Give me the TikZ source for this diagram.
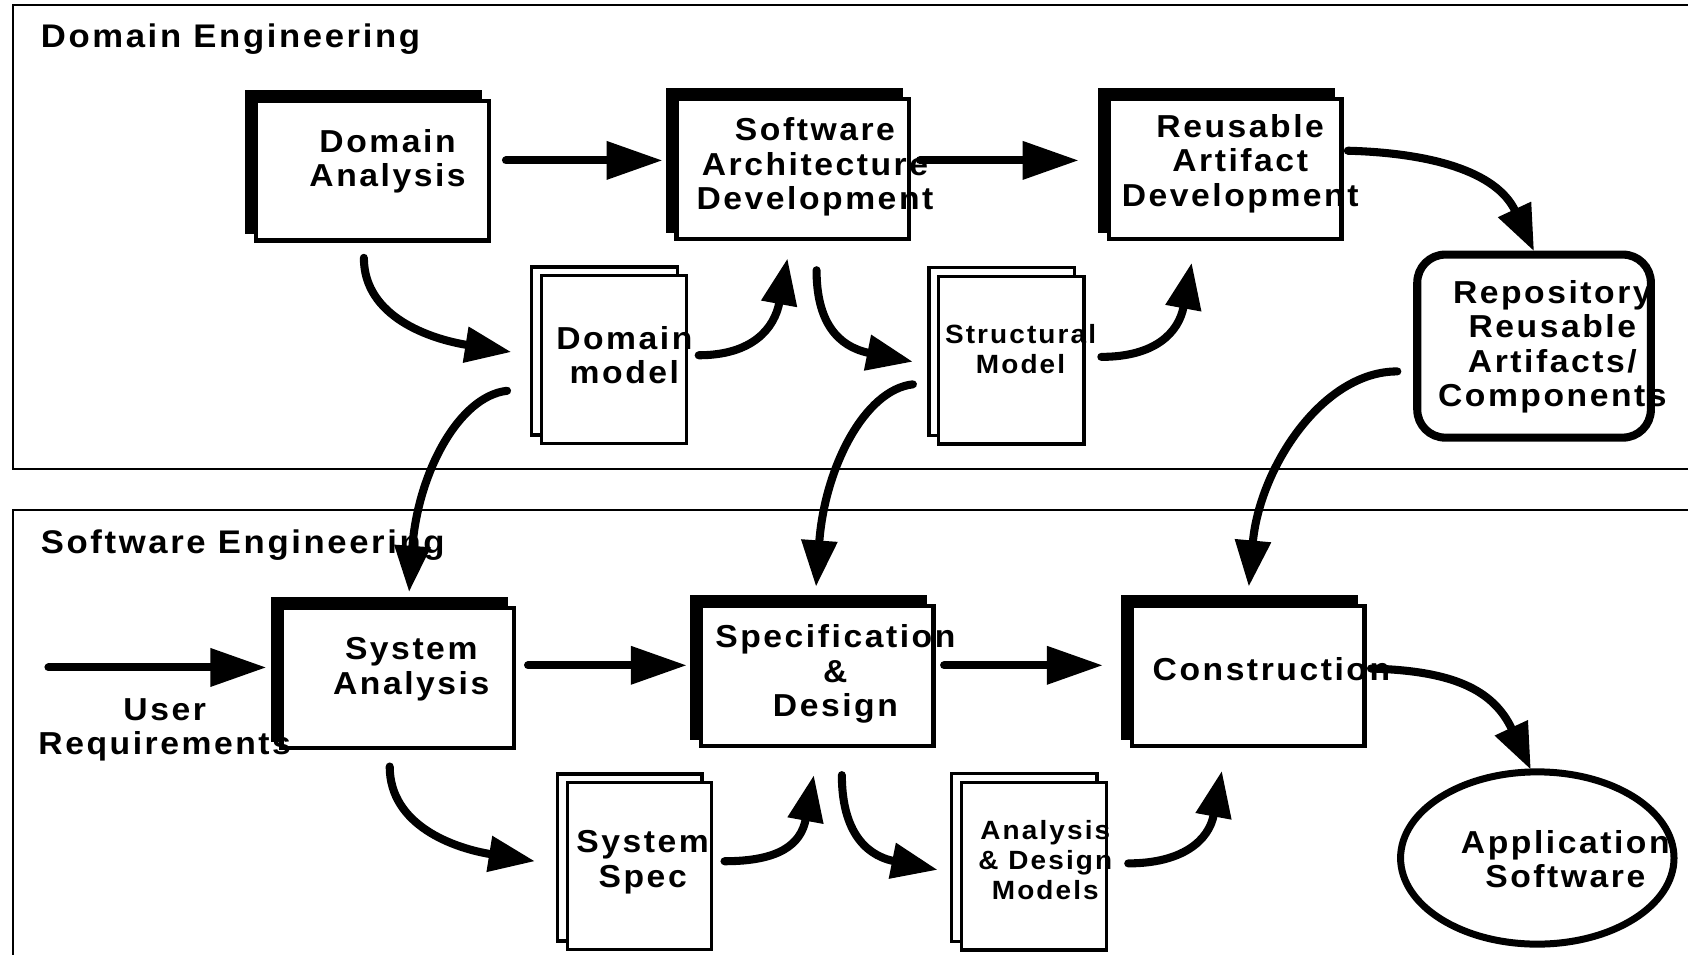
\documentclass[tikz,border=0pt]{standalone}
\usepackage{fontspec}
\newfontfamily\dfont{Liberation Sans}[FakeStretch=1.06,LetterSpace=8]
\usetikzlibrary{arrows.meta,shadows,shapes.geometric,calc}
\begin{document}
\begin{tikzpicture}[x=1pt,y=-1pt]
\tikzset{
  every node/.style={inner sep=0pt, outer sep=0pt, align=center, font=\dfont\bfseries\fontsize{29.5}{32}\selectfont},
  smtxt/.style={font=\dfont\bfseries\fontsize{24.5}{28}\selectfont},
  headtxt/.style={font=\dfont\bfseries\fontsize{30.4}{32}\selectfont},
  proc/.style={draw, line width=4pt, fill=white, minimum width=216pt, minimum height=130pt,
    copy shadow={shadow xshift=-8pt, shadow yshift=8pt, fill=black, draw=black, line width=4pt}},
  doc/.style={draw, line width=3pt, fill=white, minimum width=135pt, minimum height=156pt,
    copy shadow={shadow xshift=-9pt, shadow yshift=8pt, fill=white, draw=black, line width=3pt}},
  frame/.style={draw, line width=2pt},
  arr/.style={line width=7.5pt, line cap=round, -{Triangle[length=52pt,width=34pt]}},
  carr/.style={line width=7.5pt, line cap=round, -{Triangle[length=43pt,width=32pt]}},
}
\path[use as bounding box] (0,0) rectangle (1568,887);
\fill[white] (0,0) rectangle (1568,887);
\clip (0,0) rectangle (1568,887);

% frames
\draw[frame] (1590,5) -- (12,5) -- (12,436) -- (1590,436);
\draw[frame] (1590,474) -- (12,474) -- (12,900);
\node[headtxt, anchor=west] (deL) at (38,36) {Domain Engineering};
\node[headtxt, anchor=west] (seL) at (38,506) {Software Engineering};

% process boxes
\node[proc] (da) at (346,158.5) [label={[shift={(14,-8.5)}]center:Domain\\Analysis}] {};
\node[proc] (sad) at (736.5,157) [label={[shift={(20.5,-2)}]center:Software\\Architecture\\Development}] {};
\node[proc] (rad) at (1138,157) [label={[shift={(14,-5)}]center:Reusable\\Artifact\\Development}] {};
\node[proc] (sa) at (369.5,630) [label={[shift={(12.5,-8.5)}]center:System\\Analysis}] {};
\node[proc] (sd) at (759,628) [label={[shift={(17,-2)}]center:Specification\\\&\\Design}] {};
\node[proc] (con) at (1159.5,628) [label={[shift={(21.5,-6)}]center:Construction}] {};

% documents
\node[doc] (dm) at (570.5,334) [label={[shift={(9.5,-4)}]center:Domain\\model}] {};
\node[doc] (sm) at (939.5,334.5) [label={[smtxt,shift={(8.5,-10.5)}]center:Structural\\Model}] {};
\node[doc, minimum width=134pt, minimum height=155pt] (ss) at (594,804.5) [label={[shift={(3,-3.5)}]center:System\\Spec}] {};
\node[doc] (adm) at (960.5,804.5) [label={[smtxt,shift={(10.5,-5.5)}]center:Analysis\\\& Design\\Models}] {};

% repository and application
\node[draw, line width=7.5pt, rounded corners=26pt, minimum width=217pt, minimum height=170pt, fill=white] (repo) at (1425,321.5)
  [label={[shift={(17,0.5)}]center:Repository\\Reusable\\Artifacts/\\Components}] {};
\node[ellipse, draw, line width=6.5pt, minimum width=254pt, minimum height=160pt, fill=white] (app) at (1428,797)
  [label={[shift={(26,1)}]center:Application\\Software}] {};

\node (ur) at (153,678) {User\\Requirements};
\coordinate (urs) at (45,620);

% straight arrows
\draw[arr] ([shift={(16,-9.5)}]da.east) -- ([shift={(-13,-8)}]sad.west);
\draw[arr] ([shift={(10,-8)}]sad.east) -- ([shift={(-28,-8)}]rad.west);
\draw[arr] (urs) -- ([shift={(-14,-10)}]sa.west);
\draw[arr] ([shift={(13,-12)}]sa.east) -- ([shift={(-13,-10)}]sd.west);
\draw[arr] ([shift={(10,-10)}]sd.east) -- ([shift={(-27,-10)}]con.west);

% curved arrows
\draw[carr] ([shift={(6,-17)}]rad.east) .. controls +(75,2) and +(-35,-75) .. ([shift={(0,-3)}]repo.north);
\draw[carr] ([shift={(6,-7)}]con.east) .. controls +(75,2) and +(-35,-75) .. ([shift={(-6,-2)}]app.north);
\draw[carr] ([shift={(-8,16)}]da.south) .. controls +(0,55) and +(-75,-12) .. ([shift={(-28,-7)}]dm.west);
\draw[carr] ([shift={(11,-4)}]dm.east) .. controls +(50,0) and +(-12,65) .. ([shift={(-5,18)}]sad.south);
\draw[carr] ([shift={(22,29)}]sad.south) .. controls +(0,48) and +(-70,-14) .. ([shift={(-24,1.5)}]sm.west);
\draw[carr] ([shift={(16,-3)}]sm.east) .. controls +(50,0) and +(-12,65) .. ([shift={(-31,22)}]rad.south);
\draw[carr] ([shift={(-32,29)}]dm.west) .. controls +(-45,5) and +(8,-110) .. ([shift={(10.5,-15)}]sa.north);
\draw[carr] ([shift={(-24,22.5)}]sm.west) .. controls +(-45,5) and +(8,-110) .. ([shift={(-1,-18)}]sd.north);
\draw[carr] ([shift={(-18.5,23.5)}]repo.west) .. controls +(-70,0) and +(10,-110) .. ([shift={(0.5,-18)}]con.north);
\draw[carr] ([shift={(-7.5,17)}]sa.south) .. controls +(0,55) and +(-75,-12) .. ([shift={(-30,-4.5)}]ss.west);
\draw[carr] ([shift={(12,-4.5)}]ss.east) .. controls +(50,0) and +(-12,65) .. ([shift={(-3,27)}]sd.south);
\draw[carr] ([shift={(23,27)}]sd.south) .. controls +(0,48) and +(-70,-14) .. ([shift={(-22,3.5)}]adm.west);
\draw[carr] ([shift={(20,-2.5)}]adm.east) .. controls +(50,0) and +(-12,65) .. ([shift={(-24.5,23)}]con.south);
\end{tikzpicture}
\end{document}
